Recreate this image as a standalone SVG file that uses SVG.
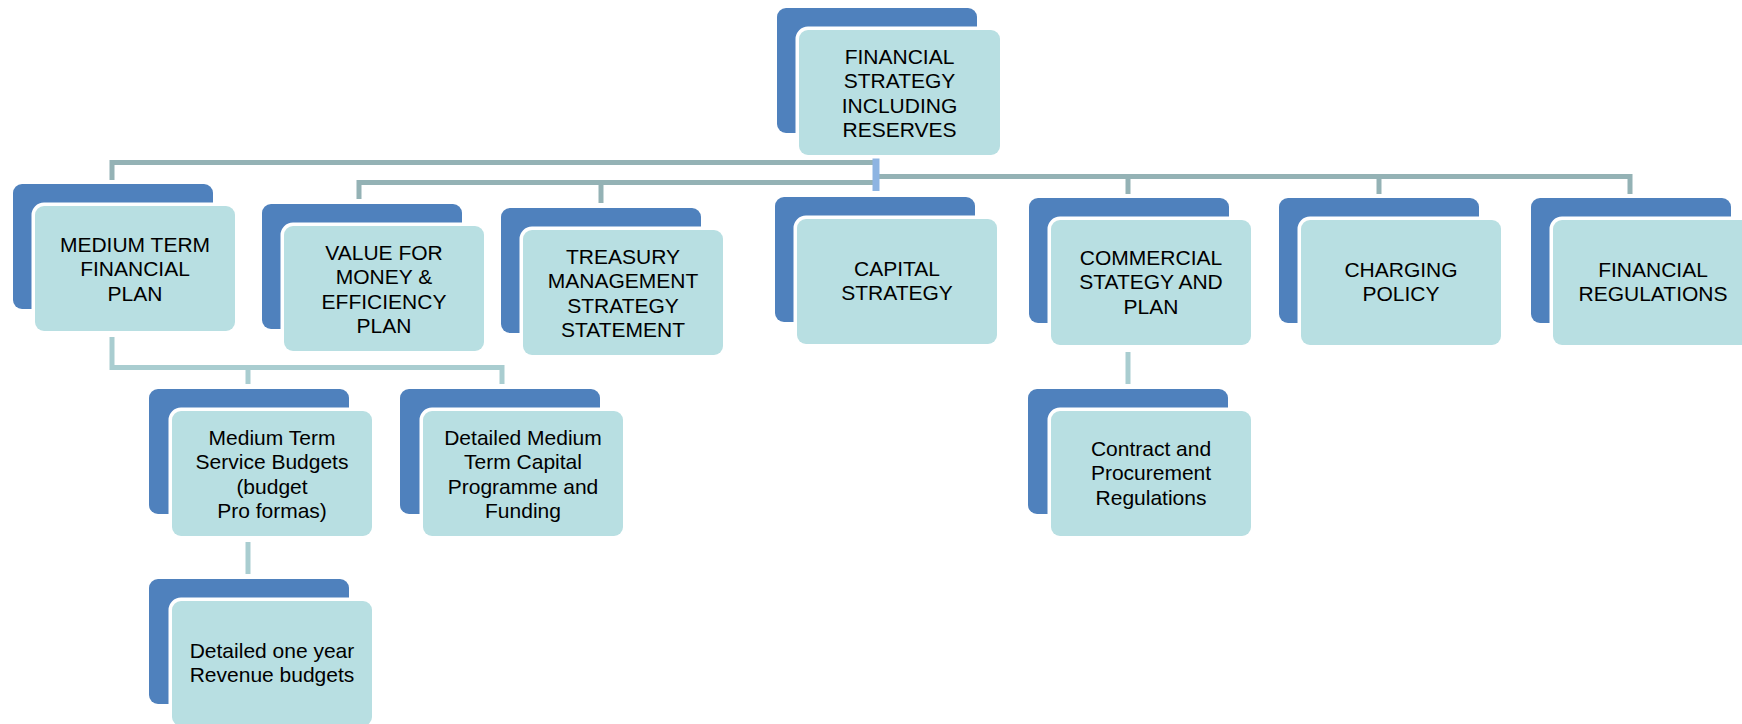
<svg xmlns="http://www.w3.org/2000/svg" width="1742" height="724" viewBox="0 0 1742 724">
  <defs>
    <style>
      .back { fill: #4F81BD; }
      .front { fill: #B8DFE2; stroke: #FFFFFF; stroke-width: 7; paint-order: stroke; }
      .lbl { font-family: "Liberation Sans", Arial, sans-serif; font-size: 21px; fill: #000000; text-anchor: middle; }
      .c1 { fill: none; stroke: #94B2B5; stroke-width: 5; }
      .c2 { fill: none; stroke: #A9CDD0; stroke-width: 5; }
      .cb { fill: none; stroke: #8DB4E2; stroke-width: 7; }
    </style>
  </defs>

  <rect width="1742" height="724" fill="#FFFFFF"/>

  <!-- connectors -->
  <g id="connectors">
    <path class="c1" d="M112,180 V162.5 H877"/>
    <path class="c1" d="M359,199 V182.5 H877"/>
    <path class="c1" d="M601,203 V182.5"/>
    <path class="c1" d="M877,176.5 H1630 V194"/>
    <path class="c1" d="M1128,176.5 V194"/>
    <path class="c1" d="M1379,176.5 V194"/>
    <path class="cb" d="M876,158 V191"/>
    <path class="c2" d="M112,337 V367.5 H502 V384"/>
    <path class="c2" d="M248,367.5 V384"/>
    <path class="c2" d="M248,542 V574"/>
    <path class="c2" d="M1128,352 V384"/>
  </g>

  <!-- top node -->
  <g id="financial-strategy">
    <rect class="back" x="777" y="8" width="200" height="125" rx="9"/>
    <rect class="front" x="799" y="30" width="201" height="125" rx="9"/>
    <text class="lbl" x="899.5" y="64">FINANCIAL</text>
    <text class="lbl" x="899.5" y="88.4">STRATEGY</text>
    <text class="lbl" x="899.5" y="112.8">INCLUDING</text>
    <text class="lbl" x="899.5" y="137.2">RESERVES</text>
  </g>

  <!-- second level -->
  <g id="medium-term-financial-plan">
    <rect class="back" x="13" y="184" width="200" height="125" rx="9"/>
    <rect class="front" x="35" y="206" width="200" height="125" rx="9"/>
    <text class="lbl" x="135" y="252">MEDIUM TERM</text>
    <text class="lbl" x="135" y="276.4">FINANCIAL</text>
    <text class="lbl" x="135" y="300.8">PLAN</text>
  </g>

  <g id="value-for-money">
    <rect class="back" x="262" y="204" width="200" height="125" rx="9"/>
    <rect class="front" x="284" y="226" width="200" height="125" rx="9"/>
    <text class="lbl" x="384" y="260">VALUE FOR</text>
    <text class="lbl" x="384" y="284.4">MONEY &amp;</text>
    <text class="lbl" x="384" y="308.8">EFFICIENCY</text>
    <text class="lbl" x="384" y="333.2">PLAN</text>
  </g>

  <g id="treasury-management">
    <rect class="back" x="501" y="208" width="200" height="125" rx="9"/>
    <rect class="front" x="523" y="230" width="200" height="125" rx="9"/>
    <text class="lbl" x="623" y="264">TREASURY</text>
    <text class="lbl" x="623" y="288.4">MANAGEMENT</text>
    <text class="lbl" x="623" y="312.8">STRATEGY</text>
    <text class="lbl" x="623" y="337.2">STATEMENT</text>
  </g>

  <g id="capital-strategy">
    <rect class="back" x="775" y="197" width="200" height="125" rx="9"/>
    <rect class="front" x="797" y="219" width="200" height="125" rx="9"/>
    <text class="lbl" x="897" y="276">CAPITAL</text>
    <text class="lbl" x="897" y="300.4">STRATEGY</text>
  </g>

  <g id="commercial-strategy">
    <rect class="back" x="1029" y="198" width="200" height="125" rx="9"/>
    <rect class="front" x="1051" y="220" width="200" height="125" rx="9"/>
    <text class="lbl" x="1151" y="265">COMMERCIAL</text>
    <text class="lbl" x="1151" y="289.4">STATEGY AND</text>
    <text class="lbl" x="1151" y="313.8">PLAN</text>
  </g>

  <g id="charging-policy">
    <rect class="back" x="1279" y="198" width="200" height="125" rx="9"/>
    <rect class="front" x="1301" y="220" width="200" height="125" rx="9"/>
    <text class="lbl" x="1401" y="277">CHARGING</text>
    <text class="lbl" x="1401" y="301.4">POLICY</text>
  </g>

  <g id="financial-regulations">
    <rect class="back" x="1531" y="198" width="200" height="125" rx="9"/>
    <rect class="front" x="1553" y="220" width="200" height="125" rx="9"/>
    <text class="lbl" x="1653" y="277">FINANCIAL</text>
    <text class="lbl" x="1653" y="301.4">REGULATIONS</text>
  </g>

  <!-- third level -->
  <g id="service-budgets">
    <rect class="back" x="149" y="389" width="200" height="125" rx="9"/>
    <rect class="front" x="172" y="411" width="200" height="125" rx="9"/>
    <text class="lbl" x="272" y="445">Medium Term</text>
    <text class="lbl" x="272" y="469.4">Service Budgets</text>
    <text class="lbl" x="272" y="493.8">(budget</text>
    <text class="lbl" x="272" y="518.2">Pro formas)</text>
  </g>

  <g id="capital-programme">
    <rect class="back" x="400" y="389" width="200" height="125" rx="9"/>
    <rect class="front" x="423" y="411" width="200" height="125" rx="9"/>
    <text class="lbl" x="523" y="445">Detailed Medium</text>
    <text class="lbl" x="523" y="469.4">Term Capital</text>
    <text class="lbl" x="523" y="493.8">Programme and</text>
    <text class="lbl" x="523" y="518.2">Funding</text>
  </g>

  <g id="contract-procurement">
    <rect class="back" x="1028" y="389" width="200" height="125" rx="9"/>
    <rect class="front" x="1051" y="411" width="200" height="125" rx="9"/>
    <text class="lbl" x="1151" y="456">Contract and</text>
    <text class="lbl" x="1151" y="480.4">Procurement</text>
    <text class="lbl" x="1151" y="504.8">Regulations</text>
  </g>

  <!-- fourth level -->
  <g id="revenue-budgets">
    <rect class="back" x="149" y="579" width="200" height="125" rx="9"/>
    <rect class="front" x="172" y="601" width="200" height="125" rx="9"/>
    <text class="lbl" x="272" y="658">Detailed one year</text>
    <text class="lbl" x="272" y="682.4">Revenue budgets</text>
  </g>
</svg>
